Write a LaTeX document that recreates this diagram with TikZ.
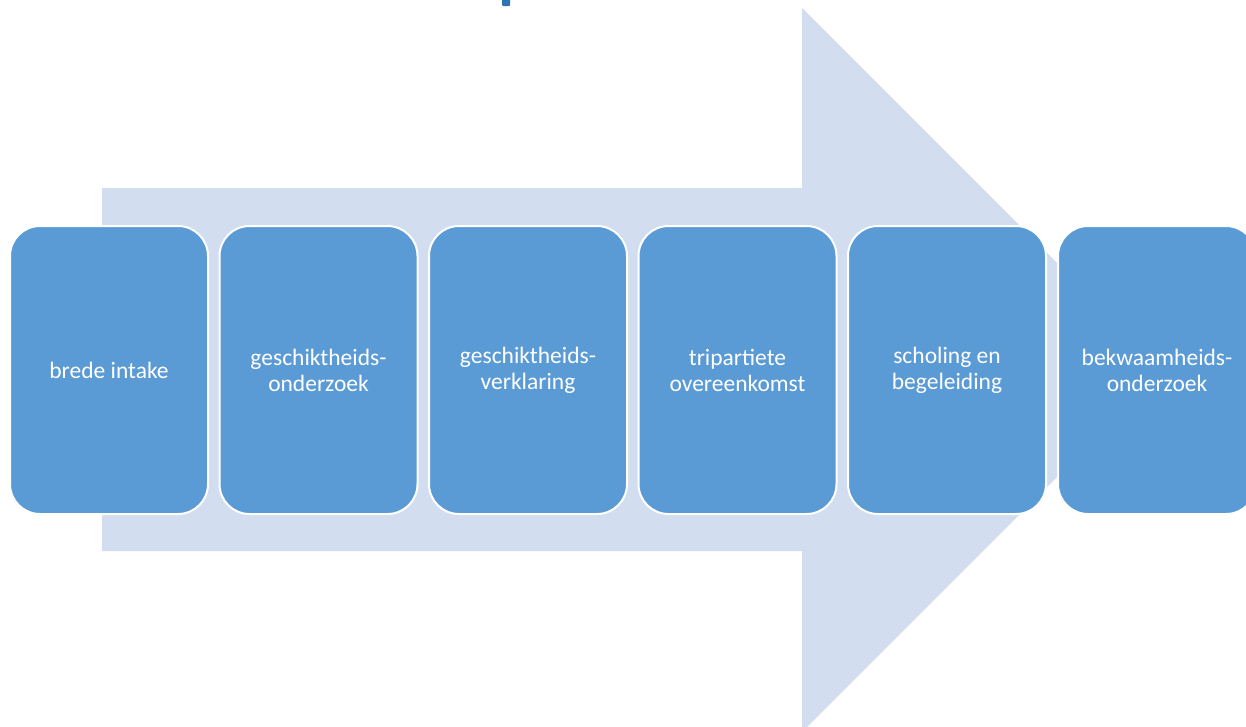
\documentclass[tikz,border=0pt]{standalone}
\usepackage{fontspec}
\setmainfont{Carlito}
\definecolor{boxblue}{HTML}{5B9BD5}
\definecolor{arrowblue}{HTML}{D2DEEF}
\definecolor{titleblue}{HTML}{2E74B5}
\begin{document}
\begin{tikzpicture}[x=1pt,y=-1pt,
  stepbox/.style={draw=white, line width=2pt, fill=boxblue, rounded corners=30pt,
    minimum width=198pt, minimum height=288pt, text=white,
    font=\fontsize{23.5}{26}\selectfont, align=center, inner sep=0pt, anchor=center}]
\useasboundingbox (0,0) rectangle (1246,726);
\clip (0,0) rectangle (1246,726);
\fill[white] (0,0) rectangle (1246,726);
\fill[arrowblue] (102,188) -- (802,188) -- (802,8) -- (1164,370) -- (802,732) -- (802,551) -- (102,551) -- cycle;
\fill[titleblue, rounded corners=1pt] (502,-3) rectangle (510,6);
\node[stepbox] (b1) at (109,370) {brede intake};
\node[stepbox] (b2) at (318.5,370) {geschiktheids-\\onderzoek};
\node[stepbox] (b3) at (528,370) {geschiktheids-\\verklaring};
\node[stepbox] (b4) at (737.5,370) {tripartiete\\overeenkomst};
\node[stepbox] (b5) at (947,370) {scholing en\\begeleiding};
\node[stepbox] (b6) at (1157,370) {bekwaamheids-\\onderzoek};
\end{tikzpicture}
\end{document}
